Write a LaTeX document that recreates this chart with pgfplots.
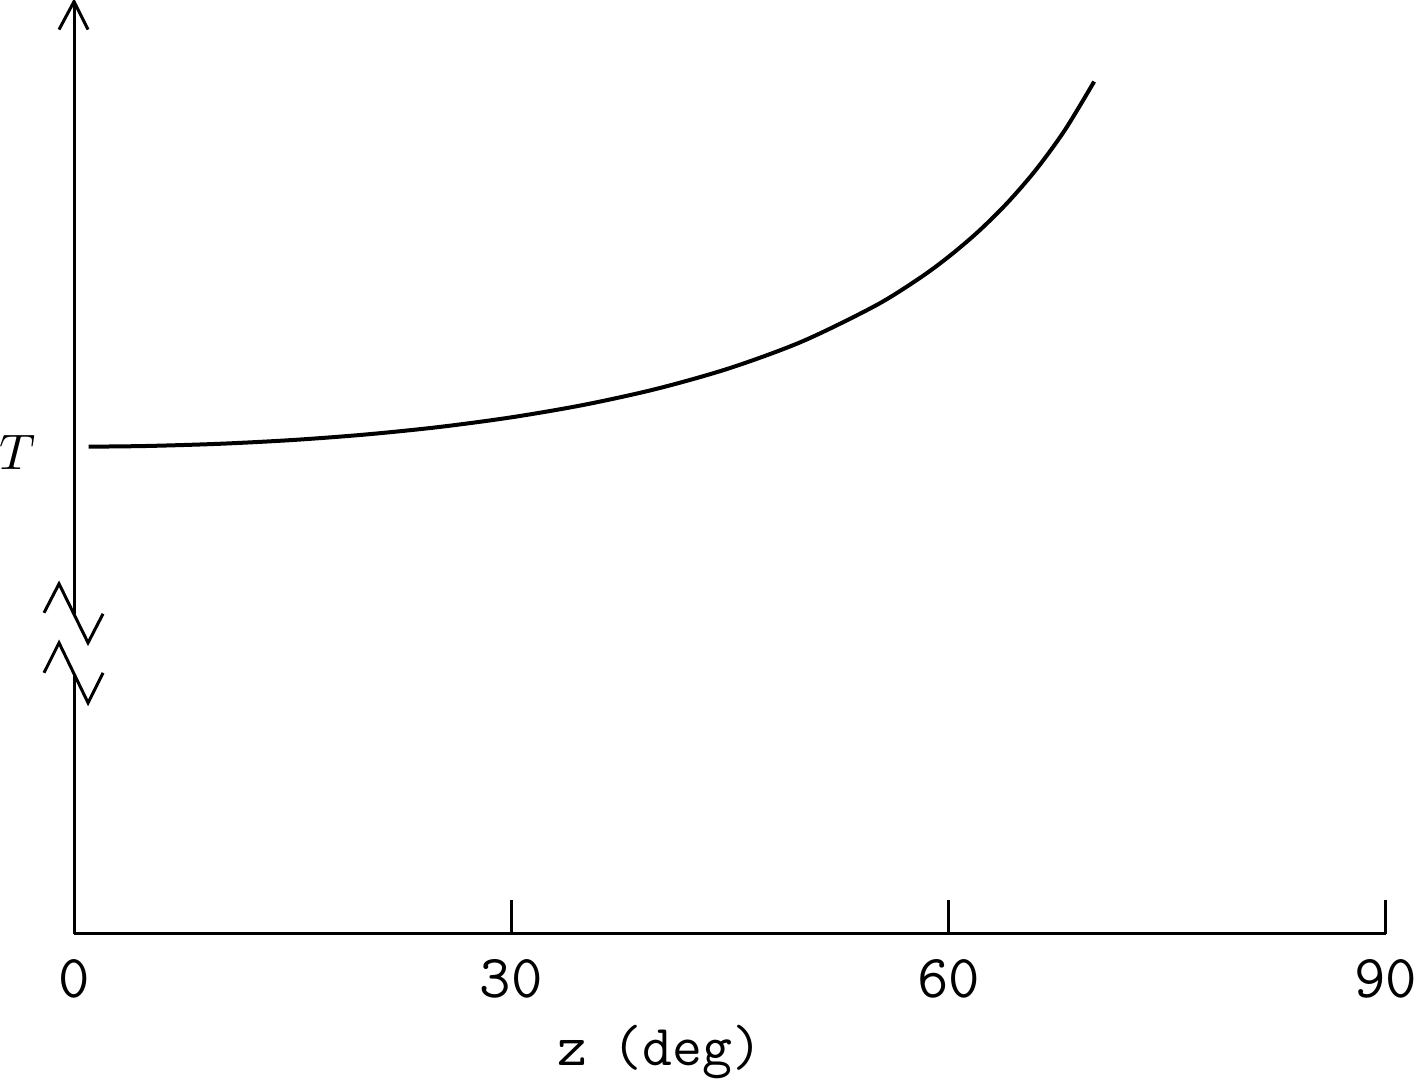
\documentclass[border=0pt]{standalone}
\usepackage{pgfplots}
\pgfplotsset{compat=1.18}
\begin{document}
\begin{tikzpicture}
	\begin{axis}[
		scale only axis,
		width=262.2pt,
		height=186.4pt,
		xmin=0, xmax=90,
		ymin=-1.5672, ymax=3.3458,
		axis x line*=bottom,
		axis y line=none,
		x axis line style={line width=0.6pt},
		xtick={0,30,60,90},
		xticklabels={0,30,60,90},
		tick align=inside,
		major tick length=6.8pt,
		tick style={line width=0.6pt, black},
		xticklabel style={font=\fontsize{12.2}{14}\selectfont\ttfamily, anchor=base, inner sep=0pt, yshift=-12.8pt},
		clip=false]
		
			\addplot[mark=none, smooth, line width=0.8pt] coordinates{
				(1,1.00015)(5,1.00382)(10,1.01543)(15,1.03528)(20,1.06418)
				(25,1.10338)(30,1.15470)(35,1.22077)(40,1.30541)(45,1.41421)
				(50,1.55572)(55,1.74345)(58,1.88708)(60,2.00000)(62,2.13005)
				(64,2.28117)(66,2.45859)(68,2.66947)(70,2.92380)};
			
			% broken y axis, drawn by hand
			\draw[line width=0.6pt] (axis cs:0,-1.5672) -- (axis cs:0,-0.1966);
			\draw[line width=0.6pt] (axis cs:0,0.1197) -- (axis cs:0,3.3458);
			\draw[line width=0.6pt] (axis cs:-1.03,3.198) -- (axis cs:0,3.3458) -- (axis cs:0.961,3.198);
			\draw[line width=0.6pt] (axis cs:-2.06,0.1249) -- (axis cs:-1.03,0.2778) -- (axis cs:0.961,-0.0332) -- (axis cs:1.99,0.1197);
			\draw[line width=0.6pt] (axis cs:-2.06,-0.1913) -- (axis cs:-1.03,-0.0332) -- (axis cs:0.961,-0.3495) -- (axis cs:1.99,-0.1913);
			\node[anchor=base west, inner sep=0pt] at (axis cs:-5.15,0.8788) {\fontsize{10.2}{12}\selectfont$T$};
			\node[anchor=base, inner sep=0pt, yshift=-26.4pt] at (axis cs:40.2,-1.5672)
				{\fontsize{11.6}{14}\selectfont\ttfamily z\hspace{5pt}(deg)};
			
	\end{axis}	
\end{tikzpicture}
\end{document}
